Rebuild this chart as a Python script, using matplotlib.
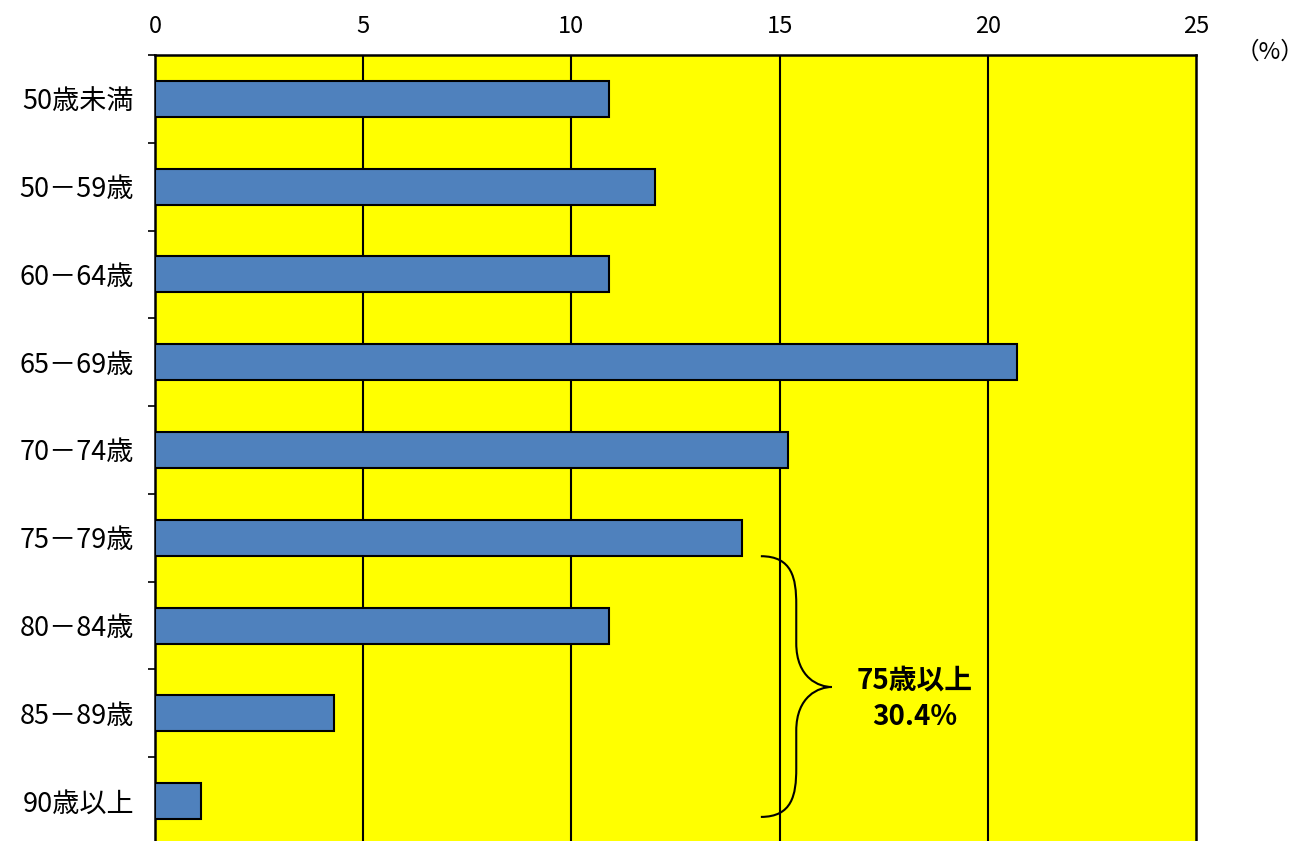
import numpy as np
import matplotlib.pyplot as plt
from matplotlib.path import Path
from matplotlib.patches import PathPatch

plt.rcParams['font.family'] = ['Noto Sans CJK JP', 'DejaVu Sans']

categories = ['50歳未満', '50－59歳', '60－64歳', '65－69歳', '70－74歳',
              '75－79歳', '80－84歳', '85－89歳', '90歳以上']
values = [10.9, 12.0, 10.9, 20.7, 15.2, 14.1, 10.9, 4.3, 1.1]
xticks = [0, 5, 10, 15, 20, 25]
note = '75歳以上\n30.4%'

fig = plt.figure(figsize=(13.09, 8.41), dpi=100)
ax = fig.add_axes([155/1309, -4/841, (1196-155)/1309, (845-55)/841])
ax.set_facecolor('#FFFF00')

y = np.arange(len(categories))
ax.barh(y, values, height=0.41, color='#4F81BD', edgecolor='black', linewidth=1.5, zorder=3)

ax.set_xlim(0, 25)
ax.set_ylim(len(categories) - 0.5, -0.5)
ax.set_xticks(xticks)
ax.xaxis.tick_top()
ax.tick_params(axis='x', length=0, pad=12, labelsize=17)
for v in xticks[1:-1]:
    ax.axvline(v, color='black', linewidth=1.5, zorder=2)

ax.set_yticks(y)
ax.set_yticklabels(categories)
ax.set_yticks(np.arange(len(categories) + 1) - 0.5, minor=True)
ax.tick_params(axis='y', which='major', length=0, pad=15, labelsize=19.5)
ax.tick_params(axis='y', which='minor', length=5, width=1.2)
for s in ax.spines.values():
    s.set_linewidth(1.8)
ax.spines['bottom'].set_visible(False)

# brace for 75+ group
x0, x1, xm = 14.55, 15.4, 16.25
ya, ym, yb = 5.21, 6.70, 8.18
verts = [(x0, ya), (x1 - 0.1, ya), (x1, ya + 0.25), (x1, ya + 0.55),
         (x1, ym - 0.5),
         (x1, ym - 0.1), (xm - 0.3, ym), (xm, ym),
         (xm - 0.3, ym), (x1, ym + 0.1), (x1, ym + 0.5),
         (x1, yb - 0.55),
         (x1, yb - 0.25), (x1 - 0.1, yb), (x0, yb)]
codes = [Path.MOVETO, Path.CURVE4, Path.CURVE4, Path.CURVE4,
         Path.LINETO,
         Path.CURVE4, Path.CURVE4, Path.CURVE4,
         Path.CURVE4, Path.CURVE4, Path.CURVE4,
         Path.LINETO,
         Path.CURVE4, Path.CURVE4, Path.CURVE4]
ax.add_patch(PathPatch(Path(verts, codes), facecolor='none', edgecolor='black',
                       linewidth=1.5, zorder=4))
ax.text(18.25, 6.83, note, ha='center', va='center', fontsize=20,
        fontweight='bold', linespacing=1.4, zorder=5)

fig.text(1270/1309, 1 - 52/841, '（%）', ha='center', va='center', fontsize=17)

fig.savefig('out.png', dpi=100)
